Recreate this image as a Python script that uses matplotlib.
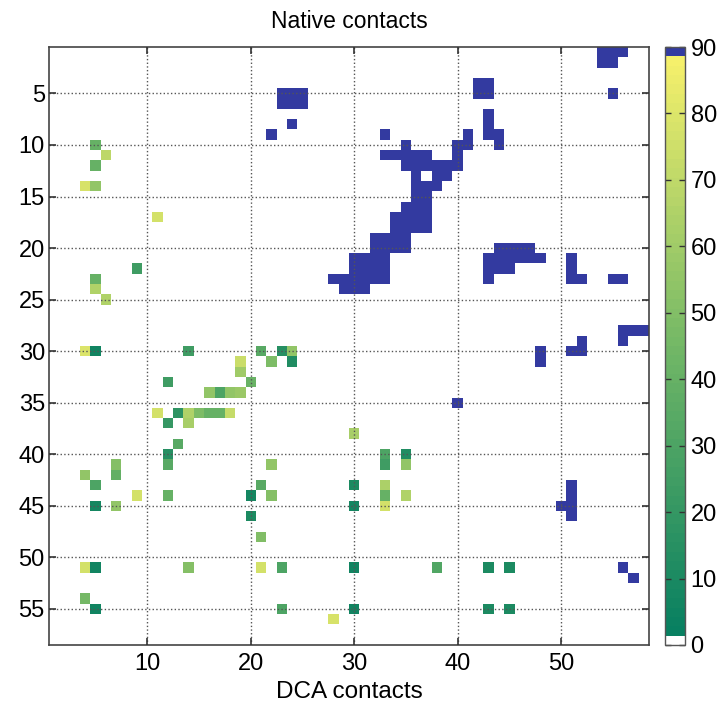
import matplotlib
matplotlib.use("Agg")
import matplotlib.pyplot as plt
import numpy as np
from matplotlib.colors import ListedColormap, LinearSegmentedColormap

plt.rcParams['font.family'] = ['Liberation Sans', 'DejaVu Sans']

# taille de la carte de contacts (residus)
n_res = 58

# contacts natifs (triangle superieur) : ligne -> colonnes
native_rows = [1, 2, 4, 5, 6, 7, 8, 9, 10, 11, 12, 13, 14, 15, 16, 17, 18,
               19, 20, 21, 22, 23, 24, 28, 29, 30, 31, 35, 43, 44, 45, 46, 51, 52]
native_cols = [
    [54, 55, 56],
    [54, 55],
    [42, 43],
    [23, 24, 25, 42, 43, 55],
    [23, 24, 25],
    [43],
    [24, 43],
    [22, 33, 41, 43, 44],
    [35, 40, 41, 44],
    [33, 34, 35, 36, 37, 40],
    [35, 36, 37, 38, 39, 40],
    [36, 38, 39],
    [36, 37, 38],
    [36, 37],
    [35, 36, 37],
    [34, 35, 36, 37],
    [34, 35, 36, 37],
    [32, 33, 34, 35],
    [32, 33, 34, 35, 44, 45, 46, 47],
    [30, 31, 32, 33, 43, 44, 45, 46, 47, 48, 51],
    [30, 31, 32, 33, 43, 44, 45, 51],
    [28, 29, 30, 31, 32, 33, 43, 51, 52, 55, 56],
    [29, 30, 31],
    [56, 57, 58],
    [52, 56],
    [48, 51, 52],
    [48],
    [40],
    [51],
    [51],
    [50, 51],
    [51],
    [56],
    [57],
]
native_value = 90

# contacts DCA (triangle inferieur) : colonne x, ligne y, rang
dca_x = [5, 6, 5, 4, 5, 11, 9, 5, 5, 6,
         4, 5, 14, 21, 23, 24, 22, 24, 19, 19,
         12, 20, 16, 17, 18, 19, 11, 13, 14, 15,
         16, 17, 18, 12, 14, 30, 13, 12, 33, 35,
         12, 7, 22, 33, 35, 7, 4, 5, 21, 30,
         33, 9, 12, 20, 22, 33, 35, 5, 7, 30,
         33, 20, 21, 4, 5, 14, 21, 23, 30, 38,
         43, 45, 4, 5, 23, 30, 43, 45, 28]
dca_y = [10, 11, 12, 14, 14, 17, 22, 23, 24, 25,
         30, 30, 30, 30, 30, 30, 31, 31, 31, 32,
         33, 33, 34, 34, 34, 34, 36, 36, 36, 36,
         36, 36, 36, 37, 37, 38, 39, 40, 40, 40,
         41, 41, 41, 41, 41, 42, 42, 43, 43, 43,
         43, 44, 44, 44, 44, 44, 44, 45, 45, 45,
         45, 46, 48, 51, 51, 51, 51, 51, 51, 51,
         51, 51, 54, 55, 55, 55, 55, 55, 56]
dca_rank = [40, 70, 40, 78, 55, 76, 25, 40, 65, 65,
            80, 6, 25, 35, 15, 55, 48, 12, 74, 60,
            25, 42, 55, 30, 55, 58, 76, 18, 66, 48,
            40, 40, 72, 20, 62, 62, 35, 15, 30, 12,
            35, 52, 55, 25, 55, 38, 55, 30, 35, 10,
            64, 76, 40, 8, 52, 40, 66, 8, 55, 8,
            76, 10, 50, 76, 6, 52, 76, 30, 6, 32,
            10, 10, 46, 6, 30, 6, 10, 10, 78]

# matrice de la carte
carte = np.zeros((n_res, n_res))
for r, cols in zip(native_rows, native_cols):
    for c in cols:
        carte[r - 1, c - 1] = native_value
for x, y, v in zip(dca_x, dca_y, dca_rank):
    carte[y - 1, x - 1] = v

# palette facon MATLAB : blanc, vert->jaune, bleu (64 couleurs)
vert_jaune = LinearSegmentedColormap.from_list(
    'vj', [(0.03, 0.5, 0.38), (0.45, 0.72, 0.4), (0.96, 0.94, 0.42)])
couleurs = vert_jaune(np.linspace(0, 1, 62))
couleurs = np.vstack([[1, 1, 1, 1], couleurs, [0.2, 0.23, 0.63, 1]])
cmap = ListedColormap(couleurs)

fig = plt.figure(figsize=(7.24, 7.07), dpi=100)
ax = fig.add_axes([0.0677, 0.0877, 0.8287, 0.8458])
cax = fig.add_axes([0.9185, 0.0877, 0.0276, 0.8458])

im = ax.imshow(carte, cmap=cmap, vmin=0, vmax=90, interpolation='nearest',
               extent=(0.5, n_res + 0.5, n_res + 0.5, 0.5), aspect='auto')

ax.set_xticks([10, 20, 30, 40, 50])
ax.set_yticks([5, 10, 15, 20, 25, 30, 35, 40, 45, 50, 55])
ax.grid(True, linestyle=':', color='#555555', linewidth=1.0)
ax.set_axisbelow(False)
ax.tick_params(direction='in', length=5, width=1.2, top=True, right=True,
               labelsize=17, color='#333333')
ax.tick_params(axis='x', pad=6)
ax.tick_params(axis='y', pad=3)
for s in ax.spines.values():
    s.set_linewidth(1.2)
    s.set_color('#444444')

ax.set_title("Native contacts", fontsize=16.5, pad=14)
ax.set_xlabel("DCA contacts", fontsize=17.5, labelpad=4)

cb = fig.colorbar(im, cax=cax)
cb.set_ticks(np.arange(0, 91, 10))
cb.ax.tick_params(direction='in', length=4, width=1, left=True, right=True,
                  labelsize=17, color='#333333', pad=4)
cb.outline.set_linewidth(1.0)
cb.outline.set_edgecolor('#555555')

plt.savefig("out.png", dpi=100)
